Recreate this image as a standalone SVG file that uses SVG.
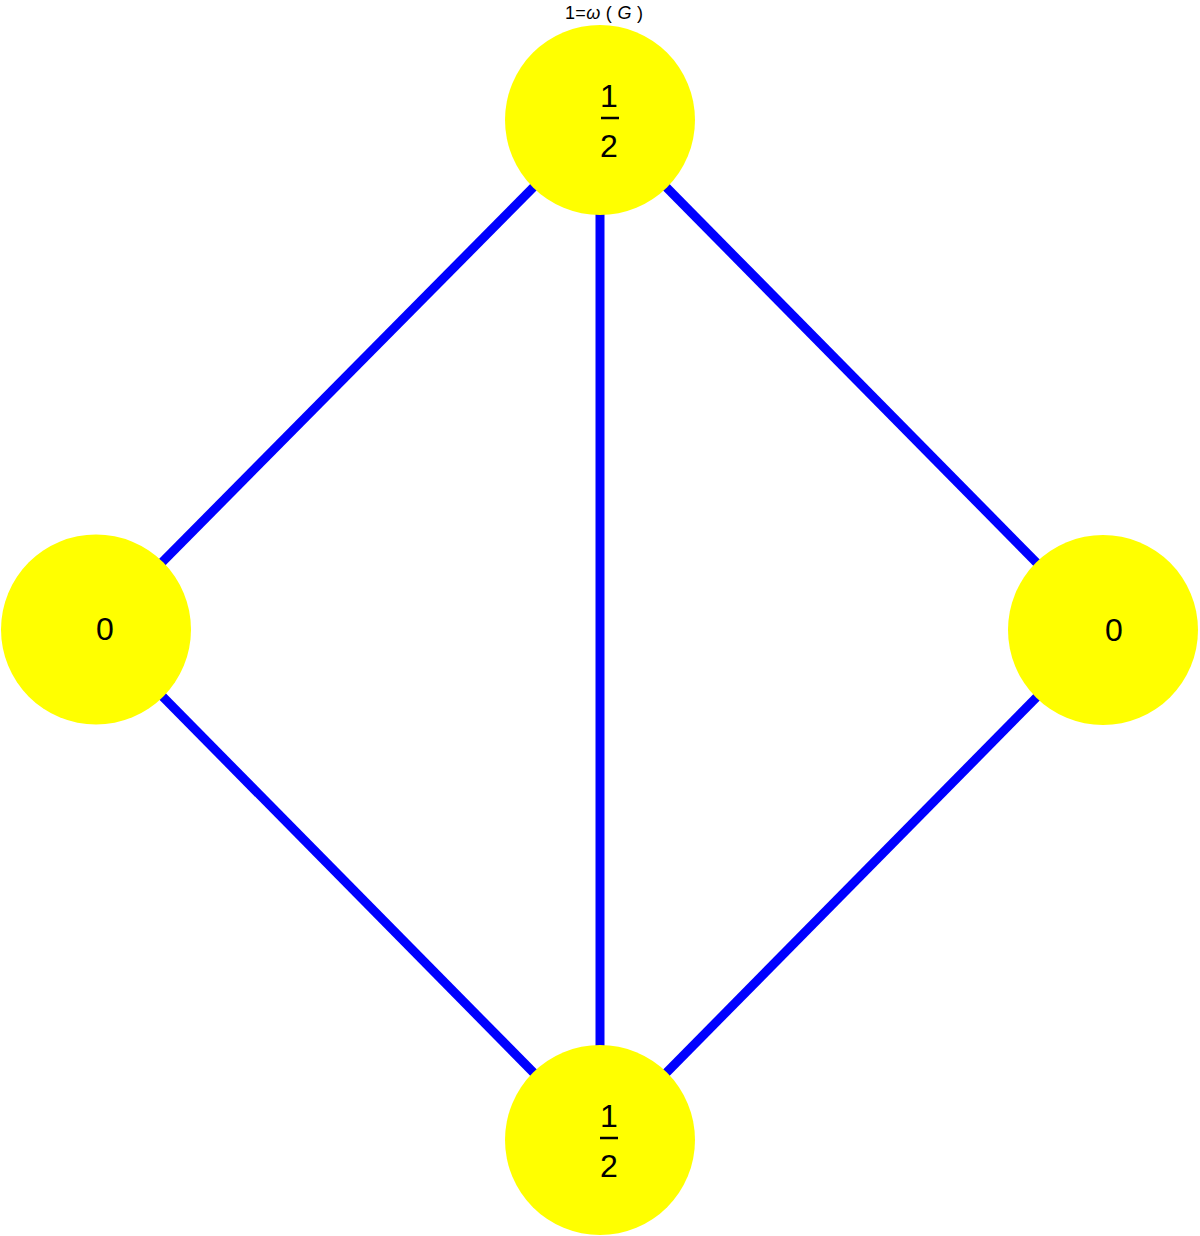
<svg xmlns="http://www.w3.org/2000/svg" width="1200" height="1236" viewBox="0 0 1200 1236">
<style>
.edge{stroke:#0000ff;stroke-width:9;fill:none}
.node{fill:#ffff00}
.t{font-family:"Liberation Sans",Arial,sans-serif;font-size:32px;fill:#000;text-anchor:middle}
.bar{stroke:#000;stroke-width:2.5}
.title{font-family:"Liberation Sans",Arial,sans-serif;font-size:18px;fill:#000}
</style>
<rect width="1200" height="1236" fill="#fff"/>
<g id="edges">
<line class="edge" x1="96" y1="629" x2="600" y2="120"/>
<line class="edge" x1="600" y1="120" x2="1103" y2="630"/>
<line class="edge" x1="600" y1="120" x2="600" y2="1140"/>
<line class="edge" x1="96" y1="629" x2="600" y2="1140"/>
<line class="edge" x1="1103" y1="630" x2="600" y2="1140"/>
</g>
<g id="node-top">
<circle class="node" cx="600" cy="120" r="95"/>
<text class="t" x="609" y="107">1</text>
<line class="bar" x1="601" y1="118" x2="619" y2="118"/>
<text class="t" x="609" y="157">2</text>
</g>
<g id="node-left">
<circle class="node" cx="96" cy="629.5" r="95"/>
<text class="t" x="105" y="640">0</text>
</g>
<g id="node-right">
<circle class="node" cx="1103" cy="630" r="95"/>
<text class="t" x="1114" y="641">0</text>
</g>
<g id="node-bottom">
<circle class="node" cx="600" cy="1140" r="95"/>
<text class="t" x="609" y="1127">1</text>
<line class="bar" x1="600" y1="1138" x2="618" y2="1138"/>
<text class="t" x="609" y="1177">2</text>
</g>
<g id="title">
<text class="title" x="565" y="19" textLength="78">1=<tspan font-style="italic">ω</tspan> ( <tspan font-style="italic">G</tspan> )</text>
</g>
</svg>
